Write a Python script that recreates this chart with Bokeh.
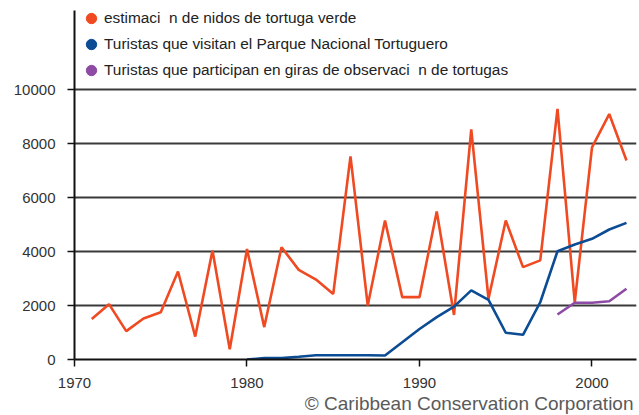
from bokeh.plotting import figure
from bokeh.models import (Range1d, FixedTicker, Legend, LegendItem, Title)
from bokeh.embed import file_html
from bokeh.resources import INLINE

# ---- data ----
nest_years = list(range(1971, 2003))
nests = [1500, 2050, 1050, 1520, 1750, 3260, 850, 4040, 380, 4090,
         1200, 4160, 3320, 2960, 2430, 7520, 2000, 5150, 2310, 2310,
         5480, 1650, 8520, 2250, 5150, 3420, 3670, 9280, 2120, 7860,
         9090, 7370]

visit_years = list(range(1980, 2003))
visitors = [0, 50, 50, 100, 160, 160, 160, 160, 150, 640, 1130, 1570,
            1960, 2560, 2210, 990, 915, 2120, 4010, 4260, 4470, 4815,
            5060]

tour_years = [1998, 1999, 2000, 2001, 2002]
tourists = [1665, 2100, 2100, 2160, 2620]

labels = ["estimaci\u00a0\u00a0n de nidos de tortuga verde",
          "Turistas que visitan el Parque Nacional Tortuguero",
          "Turistas que participan en giras de observaci\u00a0\u00a0n de tortugas"]
colors = ["#F04A22", "#0B4C94", "#8E4BA4"]
x_ticks = [1970, 1980, 1990, 2000]
y_ticks = [0, 2000, 4000, 6000, 8000, 10000]
credit = "\u00a9 Caribbean Conservation Corporation"

FONT = "Liberation Sans"
NAN = float("nan")

p = figure(width=639, height=415, output_backend="svg", toolbar_location=None,
           x_range=Range1d(1970, 2002.58), y_range=Range1d(0, 12926),
           min_border_left=74, min_border_right=3, min_border_top=10,
           min_border_bottom=56)
p.outline_line_color = None
p.background_fill_color = "white"
p.border_fill_color = "white"

# grid
p.xgrid.visible = False
p.ygrid.ticker = FixedTicker(ticks=y_ticks)
p.ygrid.grid_line_color = "#3a3a3a"
p.ygrid.grid_line_width = 2

# axes
for ax in (p.xaxis[0], p.yaxis[0]):
    ax.axis_line_color = "#111111"
    ax.axis_line_width = 2
    ax.major_tick_line_color = "#111111"
    ax.major_tick_line_width = 1.5
    ax.major_tick_in = 0
    ax.major_tick_out = 7
    ax.minor_tick_line_color = None
    ax.major_label_text_font = FONT
    ax.major_label_text_font_size = "15px"
    ax.major_label_text_color = "#333333"
p.xaxis.ticker = FixedTicker(ticks=x_ticks)
p.yaxis.ticker = FixedTicker(ticks=y_ticks)
p.xaxis.major_label_standoff = 11
p.yaxis.major_label_standoff = 12

# series
p.line(nest_years, nests, line_color=colors[0], line_width=2.6)
p.line(visit_years, visitors, line_color=colors[1], line_width=2.6)
p.line(tour_years, tourists, line_color=colors[2], line_width=2.6)

# legend markers (renderers with an undrawn point, used for circle swatches)
items = []
for lab, col in zip(labels, colors):
    r = p.scatter(x=[NAN], y=[NAN], marker="circle", size=10,
                  fill_color=col, line_color=col)
    items.append(LegendItem(label=lab, renderers=[r]))

legend = Legend(items=items, location=(4, 276), orientation="vertical",
                glyph_width=26, glyph_height=26, label_height=20,
                spacing=-2, padding=0, margin=0, label_standoff=0,
                border_line_color=None, background_fill_alpha=0,
                label_text_font=FONT, label_text_font_size="15.4px",
                label_text_color="#222222")
p.add_layout(legend, "center")

# credit line
p.add_layout(Title(text=credit, align="right", offset=3, standoff=0,
                   text_font=FONT, text_font_size="19px",
                   text_font_style="normal", text_color="#5a5a5a"), "below")

open("out.html", "w").write(file_html(p, INLINE))
